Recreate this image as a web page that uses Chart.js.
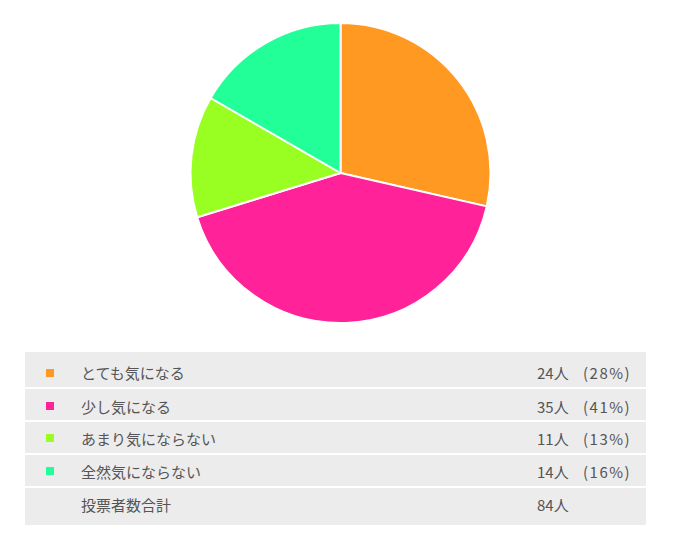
<!DOCTYPE html>
<html>
<head>
<meta charset="utf-8">
<script src="https://cdn.jsdelivr.net/npm/chart.js@4/dist/chart.umd.min.js"></script>
<style>
  html, body { margin: 0; padding: 0; background: #fff; }
  body { width: 674px; height: 539px; position: relative; overflow: hidden;
         font-family: "Noto Sans CJK JP", "Noto Sans", sans-serif; }
  #chartBox { position: absolute; left: 0; top: 0; width: 674px; height: 347px; }
  #tbl { position: absolute; left: 25px; top: 352px; width: 621px; background: #ececec;
         color: #555; font-size: 15px; }
  .row { display: flex; align-items: center; box-sizing: border-box; border-bottom: 2px solid #fff; }
  .row:last-child { border-bottom: none; }
  .sw { width: 56px; flex: none; }
  .sw span { display: block; width: 8px; height: 8px; margin-left: 21px; }
  .lab { width: 456px; flex: none; white-space: nowrap; }
  .num { width: 46px; flex: none; white-space: nowrap; }
  .pct { flex: none; white-space: nowrap; letter-spacing: 1.5px; }
</style>
</head>
<body>
<div id="chartBox"><canvas id="c"></canvas></div>
<div id="tbl"></div>
<script>
const categories = ["とても気になる", "少し気になる", "あまり気にならない", "全然気にならない"];
const votes = [24, 35, 11, 14];
const percentLabels = ["(28%)", "(41%)", "(13%)", "(16%)"];
const colors = ["#ff9922", "#ff2299", "#99ff22", "#22ff99"];
const totalLabel = "投票者数合計";
const unit = "人";

new Chart(document.getElementById("c"), {
  type: "pie",
  data: {
    labels: categories,
    datasets: [{
      data: votes,
      backgroundColor: colors,
      borderColor: "#ffffff",
      borderWidth: 2
    }]
  },
  options: {
    responsive: true,
    maintainAspectRatio: false,
    animation: false,
    layout: { padding: { top: 22, bottom: 23, left: 7 } },
    plugins: { legend: { display: false }, tooltip: { enabled: false } }
  }
});

// row layout: height incl. separator, padding-top
const rowHeights = [37, 33, 33, 33, 37];
const rowPadTop = [6, 3, 1, 1, 0];
const rowPadBottom = [0, 0, 0, 0, 4];

const tbl = document.getElementById("tbl");
function addRow(i, swColor, label, num, pct) {
  const row = document.createElement("div");
  row.className = "row";
  row.style.height = rowHeights[i] + "px";
  row.style.paddingTop = rowPadTop[i] + "px";
  row.style.paddingBottom = rowPadBottom[i] + "px";
  row.innerHTML = '<div class="sw">' + (swColor ? '<span style="background:' + swColor + '"></span>' : '') + '</div>' +
    '<div class="lab">' + label + '</div>' +
    '<div class="num">' + num + '</div>' +
    '<div class="pct">' + pct + '</div>';
  tbl.appendChild(row);
}
let total = 0;
categories.forEach((cat, i) => {
  total += votes[i];
  addRow(i, colors[i], cat, votes[i] + unit, percentLabels[i]);
});
addRow(4, null, totalLabel, total + unit, "");
</script>
</body>
</html>
